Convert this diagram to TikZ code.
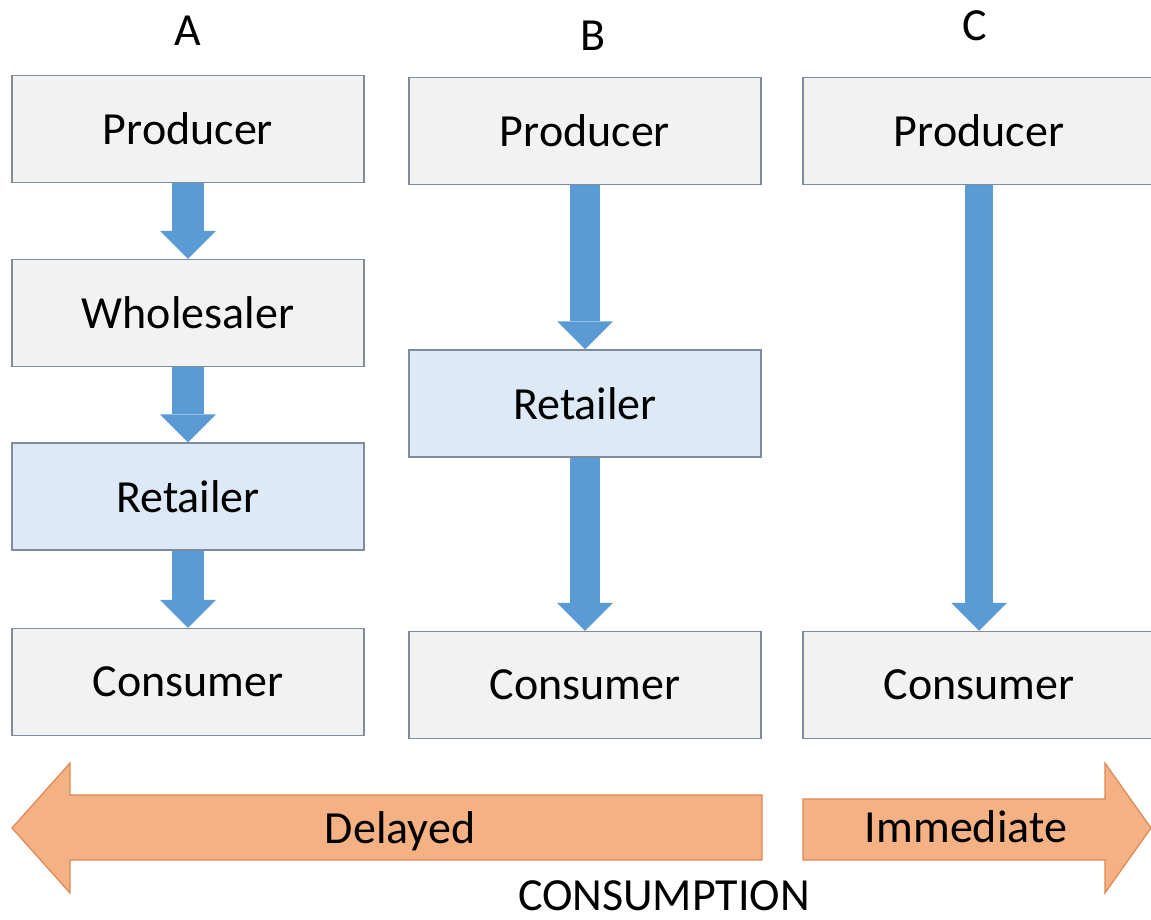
\documentclass[tikz,border=0pt]{standalone}
\usepackage{fontspec}
\setmainfont{Carlito}
\usepackage{tikz}
\usetikzlibrary{arrows.meta}
\definecolor{boxfill}{RGB}{242,242,242}
\definecolor{boxline}{RGB}{127,140,155}
\definecolor{retfill}{RGB}{221,233,246}
\definecolor{flowblue}{RGB}{91,155,213}
\definecolor{timefill}{RGB}{244,177,131}
\definecolor{timeline}{RGB}{222,135,85}
\newcommand{\chainfont}{\fontsize{46}{55}\selectfont}

\begin{document}
\begin{tikzpicture}[
x=1pt,y=-1pt,
Stage/.style={draw=boxline,fill=boxfill,line width=1.5pt,minimum width=352pt,minimum height=107pt,inner sep=0pt,font=\chainfont},
Seller/.style={Stage,fill=retfill},
Flow/.style={draw=flowblue,line width=32pt,-{Triangle[length=28pt,width=56pt,line width=0pt]}},
TimeArrow/.style={draw=timeline,fill=timefill,line width=1.2pt,line join=miter},
Words/.style={font=\chainfont,inner sep=0pt,anchor=base}
]
\useasboundingbox (0,0) rectangle (1151,919);

% column headers
\node[Words] (HeadA) at (188,45) {A};
\node[Words] (HeadB) at (593,50) {B};
\node[Words] (HeadC) at (975,40) {C};

% A: producer -> wholesaler -> retailer -> consumer
\node[Stage]  (ProdA) at (188,129) {Producer};
\node[Stage]  (WholA) at (188,313) {Wholesaler};
\node[Seller] (RetA)  at (188,496.5) {Retailer};
\node[Stage]  (ConsA) at (188,682) {Consumer};

% B: producer -> retailer -> consumer
\node[Stage]  (ProdB) at (585,131) {Producer};
\node[Seller] (RetB)  at (585,403.5) {Retailer};
\node[Stage]  (ConsB) at (585,685) {Consumer};

% C: producer -> consumer
\node[Stage]  (ProdC) at (979,131) {Producer};
\node[Stage]  (ConsC) at (979,685) {Consumer};

\draw[Flow] (ProdA.south) -- (WholA.north);
\draw[Flow] (WholA.south) -- (RetA.north);
\draw[Flow] (RetA.south) -- (ConsA.north);

\draw[Flow,line width=30pt] (ProdB.south) -- (RetB.north);
\draw[Flow,line width=30pt] (RetB.south) -- (ConsB.north);

\draw[Flow,line width=28pt] (ProdC.south) -- (ConsC.north);

% consumption timing
\draw[TimeArrow] (762,795) -- (70,795) -- (70,763) -- (12,828) -- (70,893)
  -- (70,860) -- (762,860) -- cycle;
\draw[TimeArrow] (803,799) -- (1105,799) -- (1105,763) -- (1151,828) -- (1105,893)
  -- (1105,860) -- (803,860) -- cycle;

\node[Words] (Late) at (400,843) {Delayed};
\node[Words] (Now)  at (966,842) {Immediate};
\node[Words] (Title) at (664,910) {CONSUMPTION};

\end{tikzpicture}
\end{document}
